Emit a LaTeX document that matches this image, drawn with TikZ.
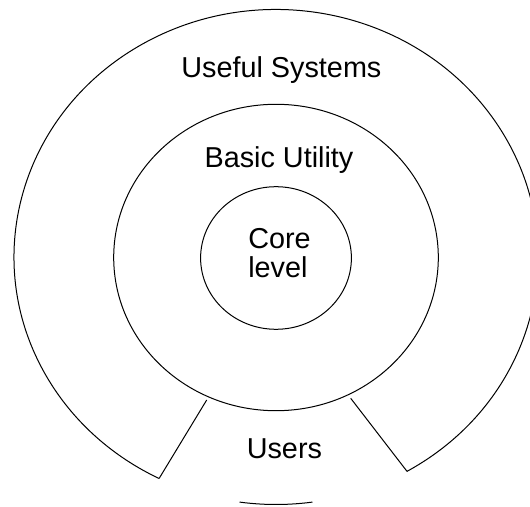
\documentclass[tikz,border=0pt]{standalone}
\usepackage{fontspec}
\setmainfont{Liberation Sans}
\usetikzlibrary{shapes.geometric}
\begin{document}
\begin{tikzpicture}[x=1pt,y=1pt,
  ring/.style={draw,ellipse,line width=1pt,inner sep=0pt},
  wire/.style={line width=1pt},
  lbl/.style={inner sep=0pt,font=\fontsize{28.8}{28.7}\selectfont}]
\useasboundingbox (0,0) rectangle (530,506);
\coordinate (O) at (276,249);
% outer broken ring
\draw[wire] ([shift={(-60:262 and 247.5)}]O) coordinate (R)
  arc[start angle=-60,end angle=243.5,x radius=262,y radius=247.5] coordinate (L);
\draw[wire] ([shift={(262:262 and 247.5)}]O)
  arc[start angle=262,end angle=278,x radius=262,y radius=247.5];
% middle and inner rings
\node[ring,minimum width=324.6pt,minimum height=306.4pt] (mid) at (276,248.5) {};
\node[ring,minimum width=150.8pt,minimum height=142.6pt] (core) at (276,248) {};
% connectors from outer ring to middle ring
\coordinate (Lt) at (206.7,106);
\coordinate (Rt) at (350.7,107.7);
\draw[wire] (L) -- (Lt);
\draw[wire] (R) -- (Rt);
% labels
\node[lbl,anchor=base] (useful) at (281.4,428.3) {Useful Systems};
\node[lbl,anchor=base] (basic) at (279,338) {Basic Utility};
\node[lbl,align=left,anchor=center] (corelbl) at (279.5,252.7) {Core\\level};
\node[lbl,anchor=base] (users) at (284.4,47.7) {Users};
\end{tikzpicture}
\end{document}
